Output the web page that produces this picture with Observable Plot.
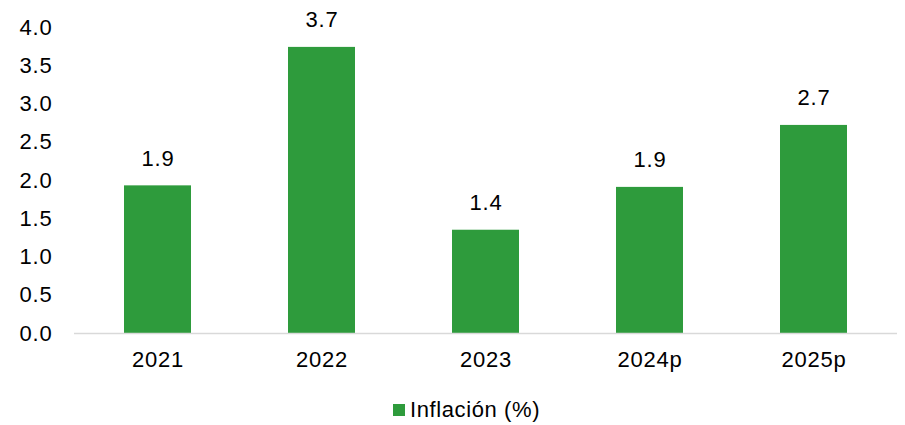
<!DOCTYPE html>
<html>
<head>
<meta charset="utf-8">
<script src="https://cdn.jsdelivr.net/npm/d3@7"></script>
<script src="https://cdn.jsdelivr.net/npm/@observablehq/plot@0.6"></script>
<style>
  html, body { margin: 0; padding: 0; background: #fff; }
  #chart { position: relative; width: 905px; height: 425px; font-family: "Liberation Sans", Arial, sans-serif; }
  #chart svg text { letter-spacing: 0.8px; }
  #legend { position: absolute; left: 393px; top: 399px; display: flex; align-items: center; font-size: 22px; letter-spacing: 0.6px; color: #000; line-height: 22px; }
  #legend .sw { width: 12px; height: 12px; background: #2e9b3c; margin-right: 5px; }
</style>
</head>
<body>
<div id="chart"></div>
<script>
const years = ["2021", "2022", "2023", "2024p", "2025p"];
const inflation = [1.93, 3.74, 1.35, 1.91, 2.72];
const labels = ["1.9", "3.7", "1.4", "1.9", "2.7"];
const yTicks = [0, 0.5, 1, 1.5, 2, 2.5, 3, 3.5, 4];
const seriesName = "Inflación (%)";

const data = years.map((y, i) => ({year: y, value: inflation[i], label: labels[i]}));

const plot = Plot.plot({
  width: 905,
  height: 380,
  marginTop: 27,
  marginBottom: 47,
  marginLeft: 74,
  marginRight: 8,
  style: {fontFamily: "Liberation Sans, Arial, sans-serif", fontSize: "22px", color: "#000", background: "#fff"},
  x: {domain: years, paddingInner: 0.593, paddingOuter: 0.2965, label: null},
  y: {domain: [0, 4], label: null},
  marks: [
    Plot.barY(data, {x: "year", y: "value", fill: "#2e9b3c"}),
    Plot.ruleY([0], {stroke: "#d9d9d9", strokeWidth: 1.5}),
    Plot.text(data, {x: "year", y: "value", text: "label", dy: -20, lineAnchor: "bottom", fill: "#000", fontSize: 22}),
    Plot.axisY({ticks: yTicks, tickFormat: d => d.toFixed(1), tickSize: 0, tickPadding: 22, label: null, fontSize: 22}),
    Plot.axisX({tickSize: 0, tickPadding: 18, label: null, fontSize: 22})
  ]
});
const chart = document.getElementById("chart");
chart.appendChild(plot);
const legend = document.createElement("div");
legend.id = "legend";
legend.innerHTML = `<div class="sw"></div><span>${seriesName}</span>`;
chart.appendChild(legend);
</script>
</body>
</html>
